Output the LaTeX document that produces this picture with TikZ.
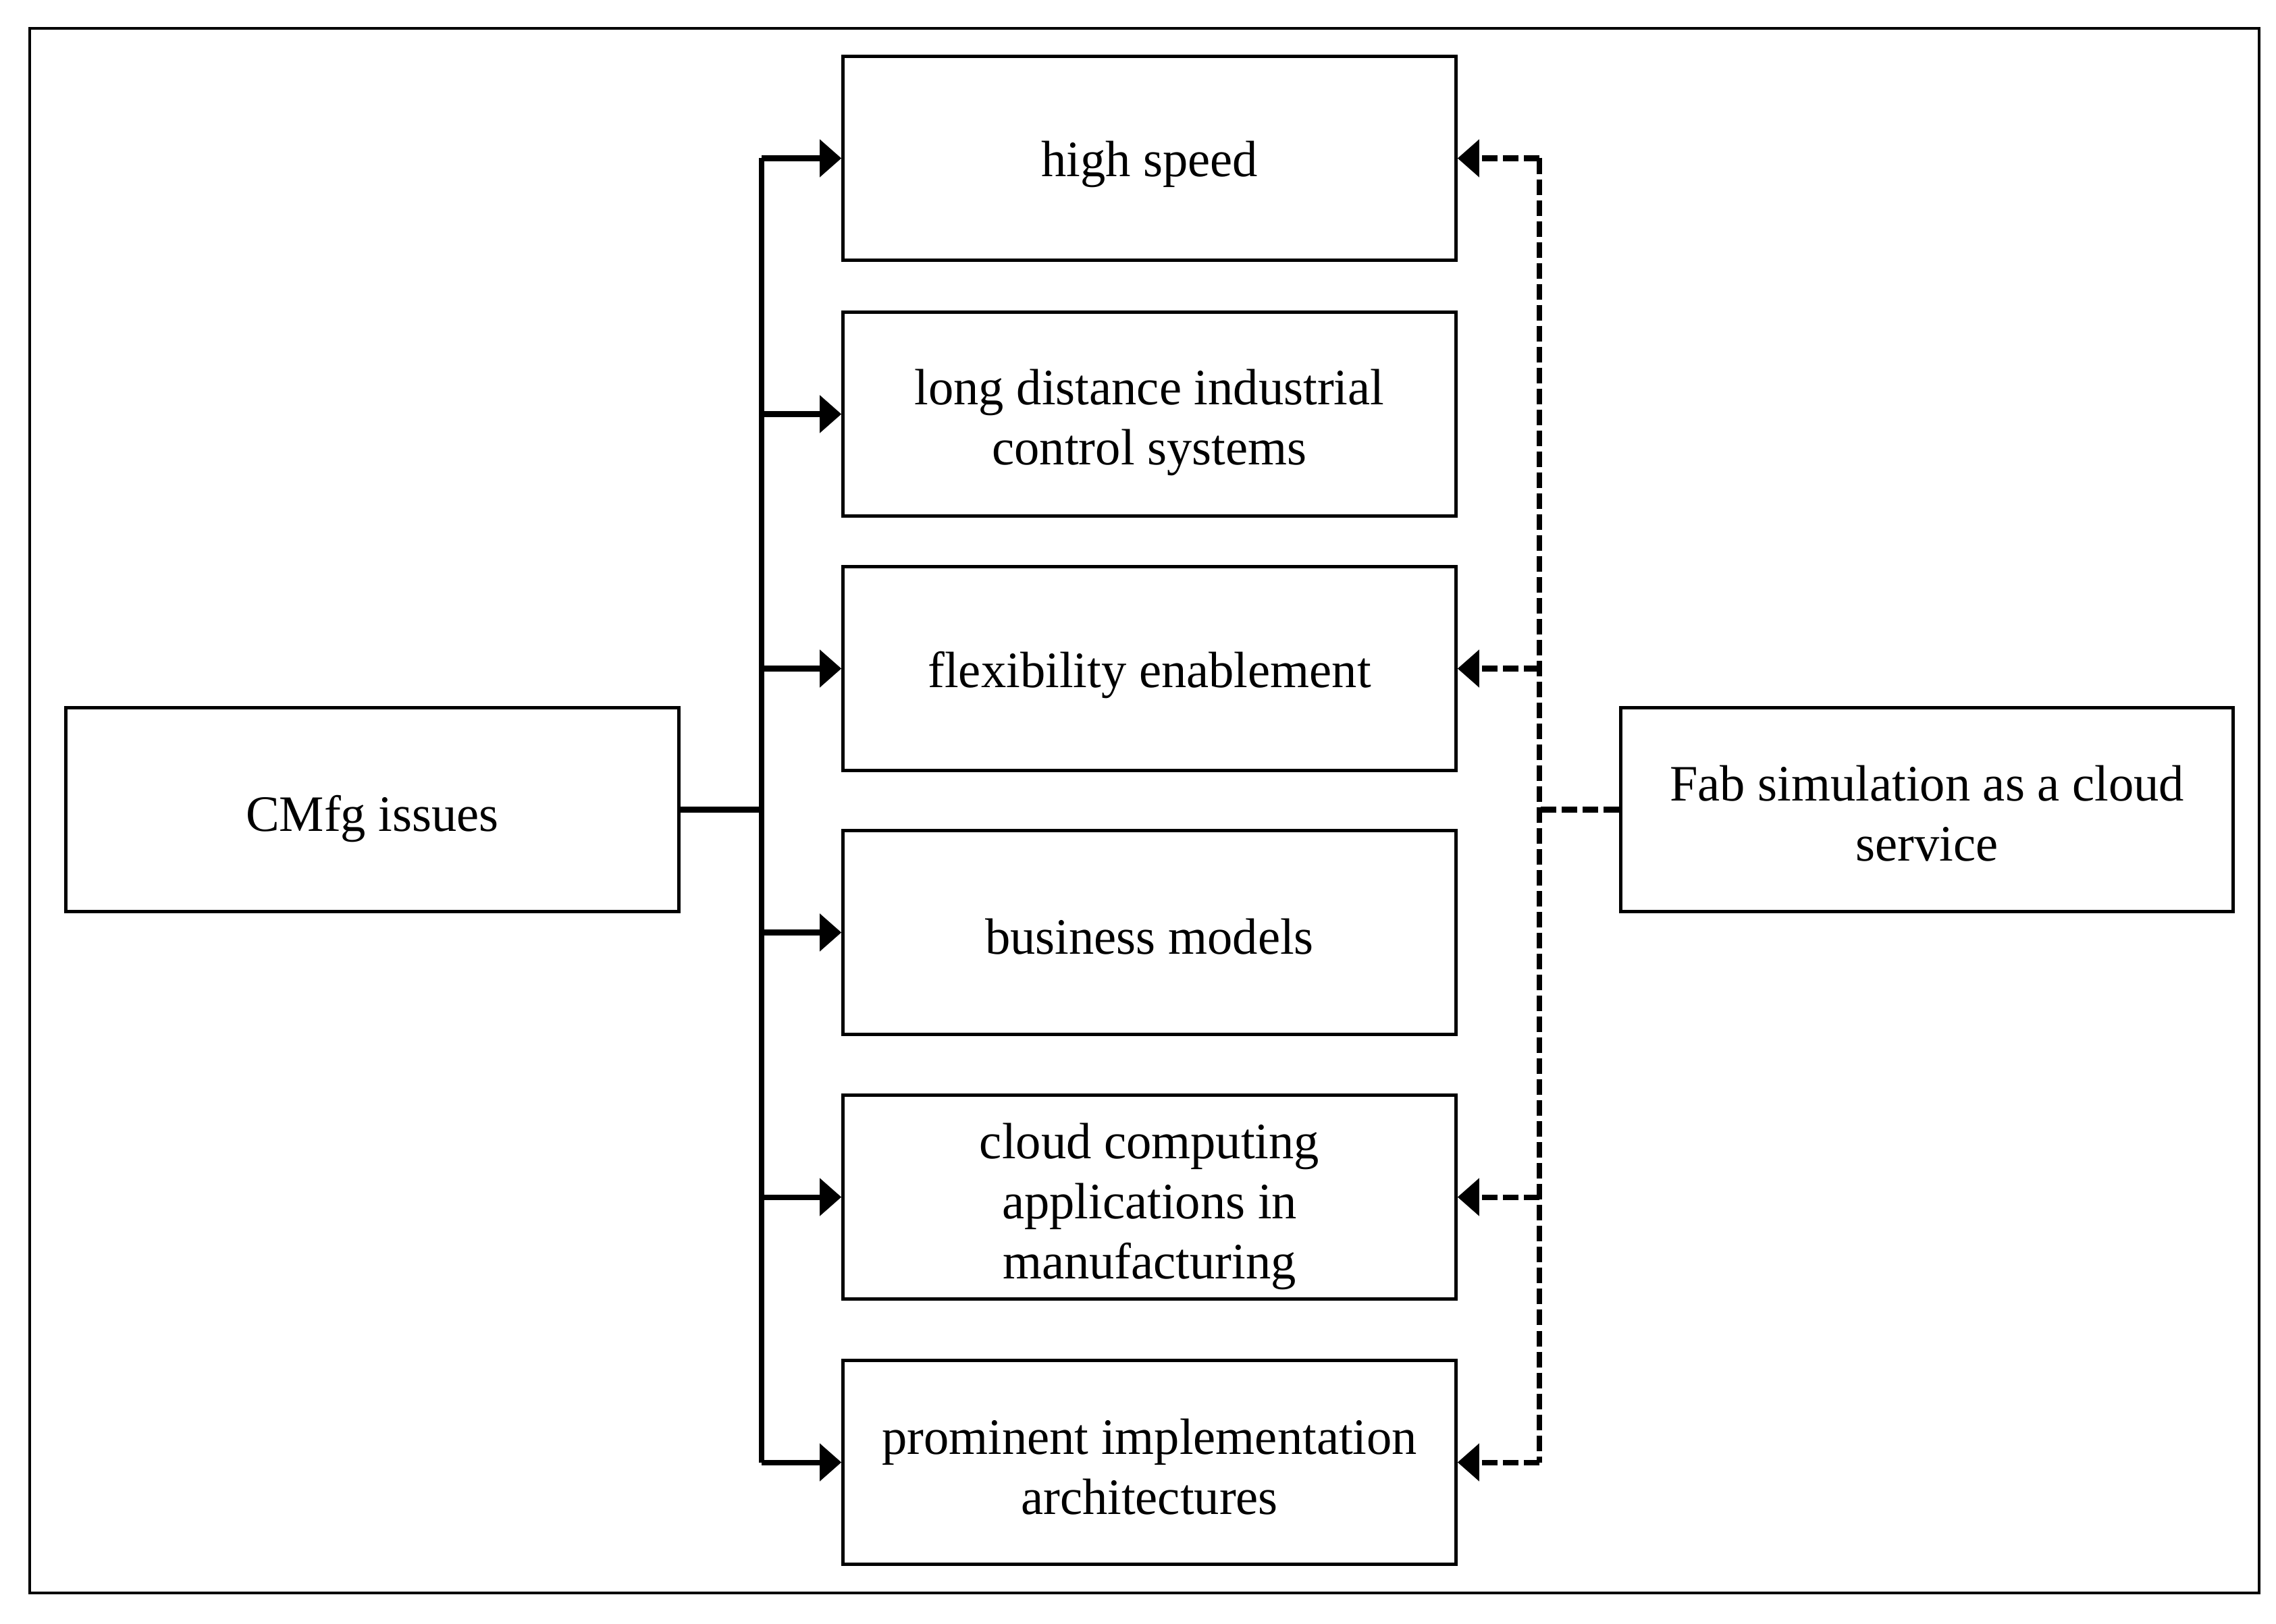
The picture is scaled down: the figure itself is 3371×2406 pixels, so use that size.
\documentclass[tikz,border=0pt]{standalone}
\usepackage{fontspec}
\setmainfont[FakeStretch=0.986]{Liberation Serif}
\usetikzlibrary{arrows.meta}
\newcommand{\lowtext}[2][0.1cm]{\raisebox{-#1}[\height][\depth]{\begin{tabular}{@{}c@{}}#2\end{tabular}}}
\begin{document}
\begin{tikzpicture}[x=0.01cm,y=-0.01cm,
  box/.style={draw,line width=1.42pt,minimum width=9.07cm,minimum height=3.01cm,inner sep=0pt,
    font=\fontsize{21.5}{25.3}\selectfont},
  conn/.style={line width=2.28pt,line join=round},
  tip/.style={-{Triangle[length=0.32cm,width=0.54cm]}},
  dconn/.style={conn,dash pattern=on 0.23cm off 0.08cm}]
\useasboundingbox (0,0) rectangle (3371,2406);
\draw[line width=1.14pt] (44,42) rectangle (3346,2360);
\node[box] (lb) at (551.5,1199.5) {\lowtext[0.14cm]{CMfg issues}};
\node[box] (rb) at (2854,1199.5) {\lowtext[0.14cm]{Fab simulation as a cloud\\service}};
\node[box] (b1) at (1702.5,234.5) {\lowtext[0.09cm]{high speed}};
\node[box] (b2) at (1702.5,613.5) {\lowtext[0.13cm]{long distance industrial\\control systems}};
\node[box] (b3) at (1702.5,990.5) {\lowtext[0.1cm]{flexibility enablement}};
\node[box] (b4) at (1702.5,1381.5) {\lowtext[0.14cm]{business models}};
\node[box] (b5) at (1702.5,1773.5) {\lowtext[0.14cm]{cloud computing\\applications in\\manufacturing}};
\node[box] (b6) at (1702.5,2166.5) {\lowtext[0.15cm]{prominent implementation\\architectures}};
\coordinate (j) at (1128,1199.5);
\coordinate (k) at (2280,1199.5);
\draw[conn] (lb.east) -- (j);
\draw[conn] (j |- b1.west) -- (j |- b6.west);
\foreach \b in {b1,b2,b3,b4,b5,b6}
  \draw[conn,tip] (j |- \b.west) -- (\b.west);
\draw[dconn] (rb.west) -- (k);
\draw[dconn] (k |- b1.east) -- (k |- b6.east);
\foreach \b in {b1,b3,b5,b6}
  \draw[dconn,tip] (k |- \b.east) -- (\b.east);
\end{tikzpicture}
\end{document}
